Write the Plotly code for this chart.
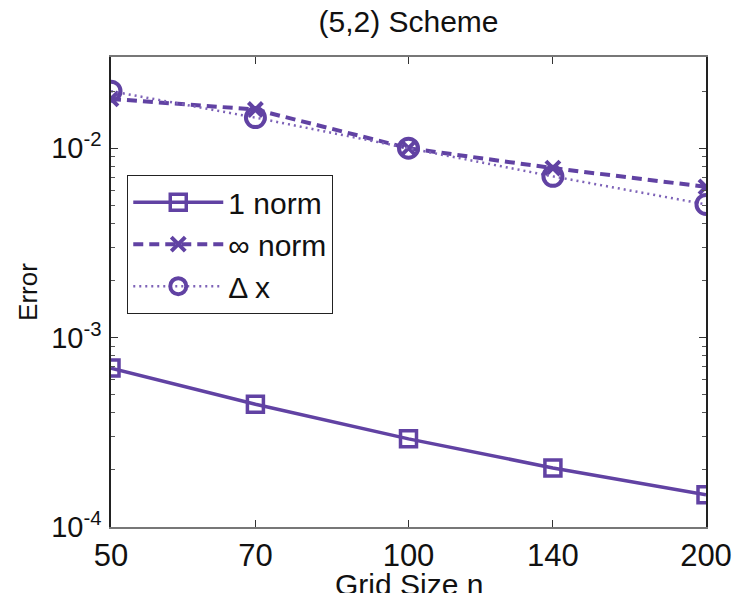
import numpy as np
import plotly.graph_objects as go

# Data
grid_n = [50, 70, 100, 140, 200]
err_1norm = [6.9e-4, 4.45e-4, 2.92e-4, 2.05e-4, 1.48e-4]
err_infnorm = [1.82e-2, 1.6e-2, 1.0e-2, 7.85e-3, 6.25e-3]
err_dx = [2.0e-2, 1.45e-2, 1.0e-2, 7.1e-3, 5.05e-3]

x_tickvals = [50, 70, 100, 140, 200]
x_ticktext = ["50", "70", "100", "140", "200"]
y_tickvals = [1e-4, 1e-3, 1e-2]
y_ticktext = ["10<sup>-4</sup>", "10<sup>-3</sup>", "10<sup>-2</sup>"]

PURPLE = "#6142A3"
FONT = "Liberation Sans, Arial, sans-serif"

fig = go.Figure()
fig.add_trace(go.Scatter(
    x=grid_n, y=err_1norm, name="1 norm", mode="lines+markers",
    line=dict(color=PURPLE, width=3.5),
    marker=dict(symbol="square-open", size=16, color=PURPLE, line=dict(width=3.5, color=PURPLE)),
))
fig.add_trace(go.Scatter(
    x=grid_n, y=err_infnorm, name="∞ norm", mode="lines+markers",
    line=dict(color=PURPLE, width=4, dash="10px,6px"),
    marker=dict(symbol="x-thin-open", size=14, color=PURPLE, line=dict(width=4, color=PURPLE)),
))
fig.add_trace(go.Scatter(
    x=grid_n, y=err_dx, name="Δ x", mode="lines+markers",
    line=dict(color="#7E63B8", width=2.5, dash="2px,4px"),
    marker=dict(symbol="circle-open", size=19, color=PURPLE, line=dict(width=4, color=PURPLE)),
))

minor_y = [m * 10.0 ** e for e in range(-4, -1) for m in range(2, 10) if m * 10.0 ** e <= 0.03]

fig.update_layout(
    width=742, height=593,
    margin=dict(l=111, r=36, t=57, b=66),
    paper_bgcolor="white", plot_bgcolor="white",
    font=dict(family=FONT, color="#111111", size=30),
    title=dict(text="(5,2) Scheme", x=0.5, xref="paper", xanchor="center",
               y=0.963, yref="container", yanchor="middle",
               font=dict(size=30, family=FONT, color="#111111")),
    showlegend=True,
    legend=dict(x=0.027, y=0.749, xanchor="left", yanchor="top",
                bgcolor="white", bordercolor="#222222", borderwidth=1.2,
                font=dict(size=30, family=FONT), itemwidth=90,
                entrywidth=238, entrywidthmode="pixels",
                tracegroupgap=0),
    annotations=[dict(text="Grid Size n", xref="paper", yref="paper",
                      x=0.5, y=-0.083, xanchor="center", yanchor="top",
                      showarrow=False,
                      font=dict(size=30, family=FONT, color="#111111"))],
)

fig.update_xaxes(
    type="log", range=[np.log10(50), np.log10(200)],
    tickvals=x_tickvals, ticktext=x_ticktext,
    ticks="inside", ticklen=7, tickwidth=1, tickcolor="#333333",
    showline=True, linecolor="#777777", linewidth=1.5, mirror="ticks",
    showgrid=False, zeroline=False,
    tickfont=dict(size=31, family=FONT, color="#111111"),
    automargin=False,
)
fig.update_yaxes(
    type="log", range=[-4, np.log10(0.0303)],
    tickvals=y_tickvals, ticktext=y_ticktext,
    ticks="inside", ticklen=7, tickwidth=1, tickcolor="#333333",
    minor=dict(tickvals=minor_y, ticks="inside", ticklen=4, tickcolor="#555555", showgrid=False),
    showline=True, linecolor="#222222", linewidth=1.5, mirror="ticks",
    showgrid=False, zeroline=False,
    tickfont=dict(size=29, family=FONT, color="#111111"),
    ticklabelstandoff=2,
    title=dict(text="Error", font=dict(size=26, family=FONT, color="#111111"), standoff=6),
    automargin=False,
)

fig.write_html("out.html")
